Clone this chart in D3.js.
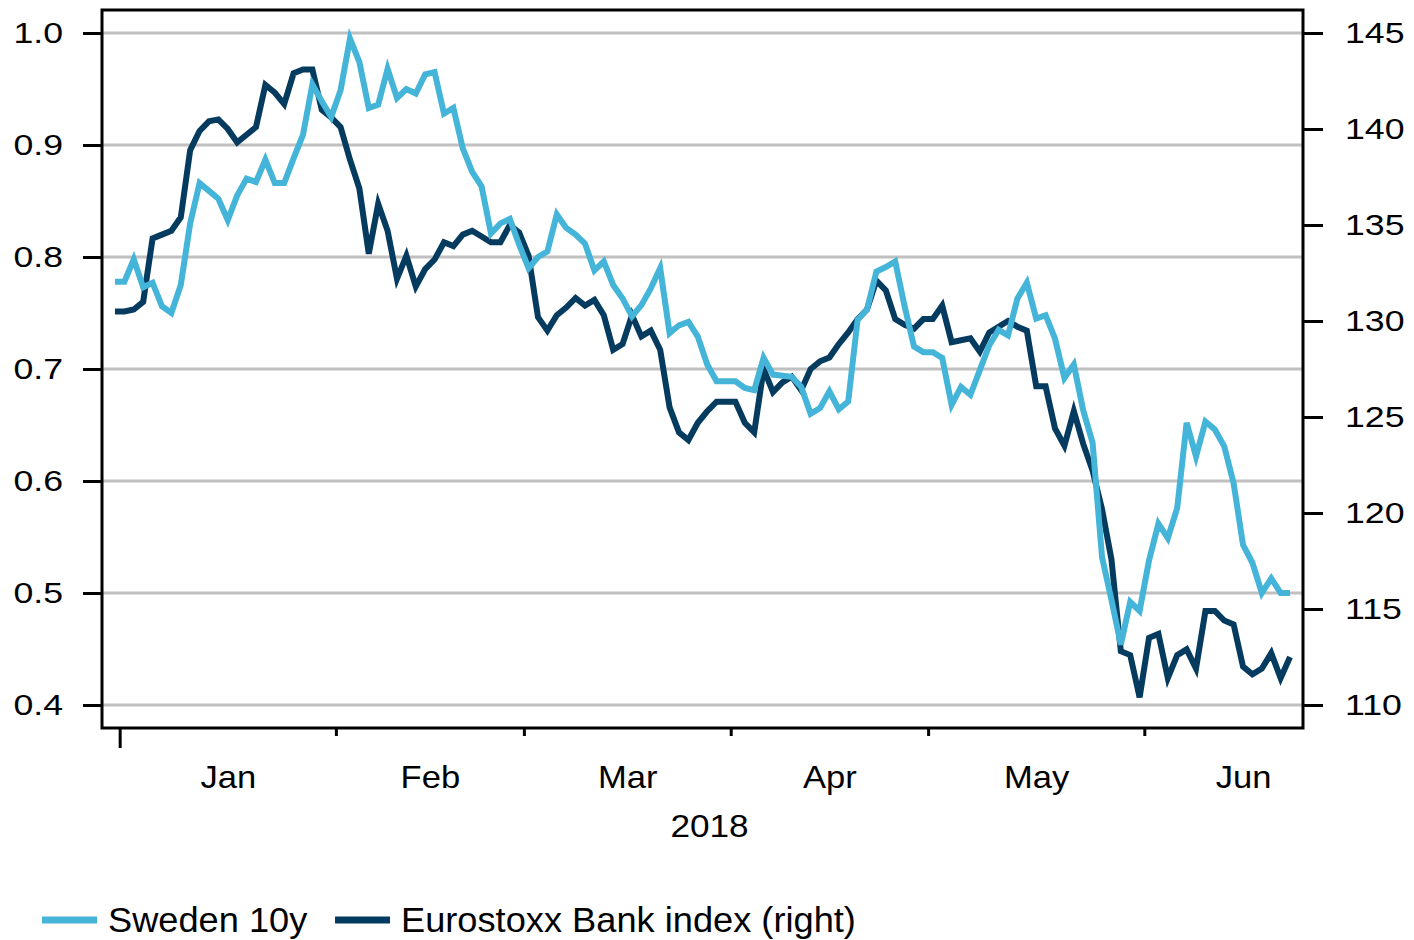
<!DOCTYPE html>
<html>
<head>
<meta charset="utf-8">
<script src="https://cdn.jsdelivr.net/npm/d3@7"></script>
<style>
  body { margin: 0; background: #fff; }
  svg text { font-family: "Liberation Sans", Arial, sans-serif; fill: #000; }
</style>
</head>
<body>
<div id="chart"></div>
<script>
//------------- data -------------/
// weekdays, 29 Dec 2017 .. 22 Jun 2018 (series), month layout runs to end of June
var firstDay = new Date(2017, 11, 29),
    lastDay = new Date(2018, 5, 30);

var months = ["Jan", "Feb", "Mar", "Apr", "May", "Jun"];
var yearLabel = "2018";
var leftTicks = [0.4, 0.5, 0.6, 0.7, 0.8, 0.9, 1.0];
var rightTicks = [110, 115, 120, 125, 130, 135, 140, 145];
var seriesNames = ["Sweden 10y", "Eurostoxx Bank index (right)"];

var sweden10y = [
  0.778, 0.778, 0.798, 0.773, 0.777, 0.756, 0.750, 0.775, 0.830, 0.866,
  0.859, 0.852, 0.833, 0.855, 0.870, 0.867, 0.887, 0.866, 0.866, 0.888,
  0.909, 0.954, 0.939, 0.925, 0.949, 0.995, 0.974, 0.933, 0.936, 0.968,
  0.942, 0.950, 0.946, 0.963, 0.965, 0.928, 0.933, 0.897, 0.876, 0.863,
  0.821, 0.830, 0.834, 0.811, 0.790, 0.800, 0.805, 0.838, 0.826, 0.820,
  0.812, 0.788, 0.796, 0.775, 0.763, 0.747, 0.757, 0.772, 0.790, 0.732,
  0.739, 0.742, 0.729, 0.704, 0.689, 0.689, 0.689, 0.683, 0.681, 0.710,
  0.695, 0.694, 0.693, 0.684, 0.660, 0.665, 0.680, 0.664, 0.671, 0.744,
  0.753, 0.787, 0.791, 0.796, 0.756, 0.720, 0.715, 0.715, 0.710, 0.668,
  0.684, 0.677, 0.699, 0.721, 0.735, 0.730, 0.763, 0.777, 0.745, 0.748,
  0.727, 0.692, 0.704, 0.663, 0.634, 0.532, 0.494, 0.454, 0.492, 0.484,
  0.529, 0.562, 0.549, 0.576, 0.652, 0.622, 0.653, 0.646, 0.631, 0.598,
  0.543, 0.527, 0.500, 0.513, 0.500, 0.500
];

var eurostoxxBanks = [
  130.5, 130.5, 130.6, 131.0, 134.3, 134.5, 134.7, 135.4, 138.9, 139.9,
  140.4, 140.5, 140.0, 139.3, 139.7, 140.1, 142.3, 141.9, 141.3, 142.9,
  143.1, 143.1, 141.0, 140.6, 140.1, 138.4, 136.9, 133.5, 136.1, 134.7,
  132.2, 133.4, 131.8, 132.7, 133.2, 134.1, 133.9, 134.5, 134.7, 134.4,
  134.1, 134.1, 135.0, 134.6, 133.4, 130.2, 129.5, 130.3, 130.7, 131.2,
  130.8, 131.1, 130.3, 128.5, 128.8, 130.3, 129.2, 129.5, 128.5, 125.5,
  124.2, 123.8, 124.7, 125.3, 125.8, 125.8, 125.8, 124.7, 124.2, 127.5,
  126.3, 126.8, 127.1, 126.4, 127.5, 127.9, 128.1, 128.8, 129.4, 130.1,
  130.6, 132.1, 131.6, 130.1, 129.8, 129.6, 130.1, 130.1, 130.8, 128.9,
  129.0, 129.1, 128.4, 129.4, 129.7, 130.0, 129.7, 129.5, 126.6, 126.6,
  124.4, 123.5, 125.3, 123.6, 122.2, 120.2, 117.6, 112.8, 112.6, 110.4,
  113.5, 113.7, 111.4, 112.6, 112.9, 111.9, 114.9, 114.9, 114.4, 114.2,
  112.0, 111.6, 111.9, 112.7, 111.4, 112.5
];

var colors = ["#44b4d8", "#053b5f"];

//------------- dimensions -------------/
var margin = {left: 102, right: 111, top: 10, bottom: 212};
var width = 1414 - margin.left - margin.right,
    height = 940 - margin.top - margin.bottom;

var tickStretch = 1.23,   // source text looks horizontally stretched
    monthStretch = 1.08,
    legendStretch = 1.035;

var svg = d3.select("#chart")
  .append("svg")
    .attr("width", 1414)
    .attr("height", 940)
  .append("g")
    .attr("transform", "translate(" + margin.left + "," + margin.top + ")");

//------------- dates / months -------------/
var dates = d3.timeDays(firstDay, lastDay).filter(function(d) { return d.getDay() % 6 !== 0; });
var monthInfo = months.map(function(m, k) {
  var idx = [];
  dates.forEach(function(d, i) { if (d.getFullYear() === 2018 && d.getMonth() === k) idx.push(i); });
  return {name: m, first: idx[0], last: idx[idx.length - 1]};
});

//------------- scales -------------/
var x = d3.scaleLinear()
    .domain([-1.38, 126.38])
    .range([0, width]);
var yL = d3.scaleLinear()
    .domain([0.4, 1.0])
    .range([695, 23]);
var yR = d3.scaleLinear()
    .domain([110, 145])
    .range([695, 23]);

//------------- grid -------------/
svg.append("g")
  .selectAll("line")
  .data(leftTicks)
  .enter()
  .append("line")
    .attr("x1", 0)
    .attr("x2", width)
    .attr("y1", function(d) { return yL(d); })
    .attr("y2", function(d) { return yL(d); })
    .attr("stroke", "#c0c0c0")
    .attr("stroke-width", 3);

//------------- lines -------------/
var lineR = d3.line()
    .x(function(d, i) { return x(i); })
    .y(function(d) { return yR(d); });
var lineL = d3.line()
    .x(function(d, i) { return x(i); })
    .y(function(d) { return yL(d); });

svg.append("path")
    .datum(eurostoxxBanks)
    .attr("fill", "none")
    .attr("stroke", colors[1])
    .attr("stroke-width", 6)
    .attr("d", lineR);

svg.append("path")
    .datum(sweden10y)
    .attr("fill", "none")
    .attr("stroke", colors[0])
    .attr("stroke-width", 6)
    .attr("d", lineL);

//------------- axes -------------/
var axL = svg.append("g")
    .call(d3.axisLeft(yL).tickValues(leftTicks).tickFormat(d3.format(".1f")).tickSize(19).tickPadding(0));
axL.select(".domain").remove();
axL.selectAll("line").attr("stroke", "#000").attr("stroke-width", 3);
axL.selectAll("text")
    .attr("x", -39 / tickStretch)
    .attr("transform", "scale(" + tickStretch + ",1)")
    .style("font-size", "29px");

var axR = svg.append("g")
    .attr("transform", "translate(" + width + ",0)")
    .call(d3.axisRight(yR).tickValues(rightTicks).tickSize(20).tickPadding(0));
axR.select(".domain").remove();
axR.selectAll("line").attr("stroke", "#000").attr("stroke-width", 3);
axR.selectAll("text")
    .attr("x", 42 / tickStretch)
    .attr("transform", "scale(" + tickStretch + ",1)")
    .style("font-size", "29px");

// month boundary ticks
var axB = svg.append("g")
    .attr("transform", "translate(0," + height + ")")
    .call(d3.axisBottom(x).tickValues(monthInfo.map(function(m) { return m.first - 0.5; }))
      .tickFormat("").tickSize(8));
axB.select(".domain").remove();
axB.selectAll("line")
    .attr("stroke", "#000")
    .attr("stroke-width", 3)
    .attr("y2", function(d, i) { return i === 0 ? 20 : 8; });

// month labels centred in each month
var axM = svg.append("g")
    .attr("transform", "translate(0," + height + ")")
    .call(d3.axisBottom(x).tickValues(monthInfo.map(function(m) { return (m.first + m.last) / 2; }))
      .tickFormat(function(d, i) { return months[i]; }).tickSize(0));
axM.select(".domain").remove();
axM.selectAll("text")
    .attr("y", 60)
    .attr("dy", 0)
    .attr("transform", "scale(" + monthStretch + ",1)")
    .style("font-size", "32px");

svg.append("g")
    .attr("transform", "translate(" + x((monthInfo[0].first - 0.5 + sweden10y.length) / 2) + "," + (height + 109) + ")")
  .append("text")
    .attr("text-anchor", "middle")
    .attr("transform", "scale(1.1,1)")
    .style("font-size", "32px")
    .text(yearLabel);

// frame
svg.append("rect")
    .attr("x", 0)
    .attr("y", 0)
    .attr("width", width)
    .attr("height", height)
    .attr("fill", "none")
    .attr("stroke", "#000")
    .attr("stroke-width", 3);

//------------- legend -------------/
var legendX = [-60, 233];
var legend = svg.append("g")
    .attr("transform", "translate(0," + (920 - margin.top) + ")");
var items = legend.selectAll("g")
    .data(seriesNames)
    .enter()
    .append("g")
      .attr("transform", function(d, i) { return "translate(" + legendX[i] + ",0)"; });
items.append("rect")
    .attr("x", 0)
    .attr("y", -3.5)
    .attr("width", 55)
    .attr("height", 7)
    .attr("fill", function(d, i) { return colors[i]; });
items.append("text")
    .attr("x", 66 / legendStretch)
    .attr("y", 12)
    .attr("transform", "scale(" + legendStretch + ",1)")
    .style("font-size", "35px")
    .text(function(d) { return d; });
</script>
</body>
</html>
